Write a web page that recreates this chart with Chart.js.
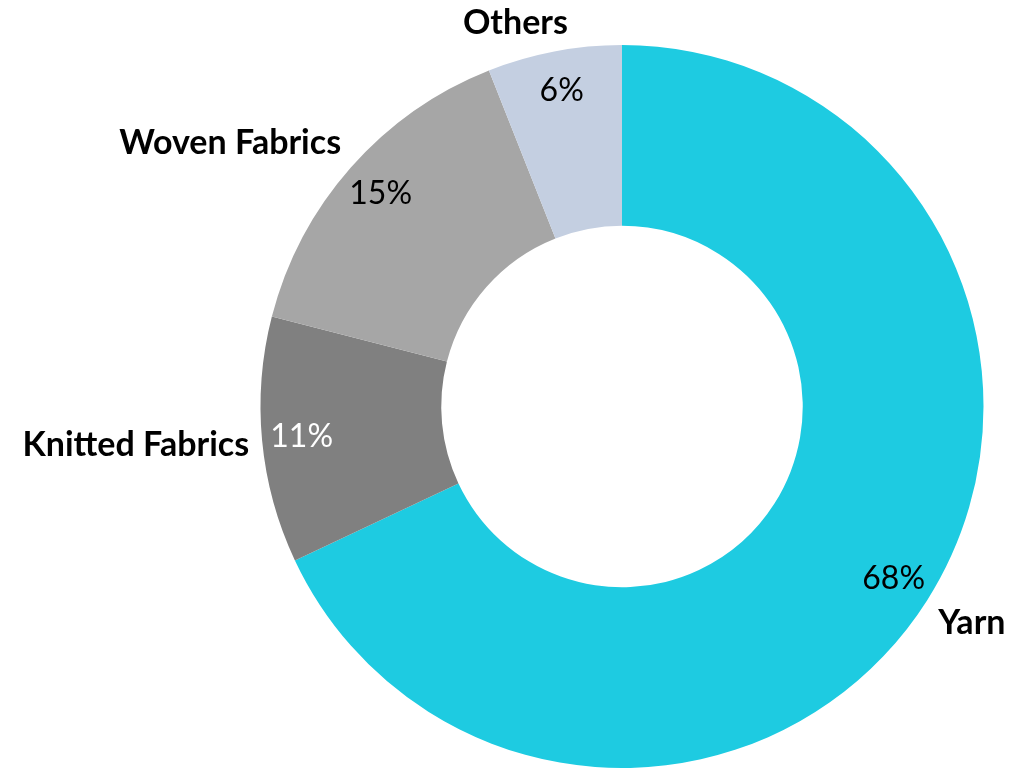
<!DOCTYPE html>
<html>
<head>
<meta charset="utf-8">
<script src="https://cdn.jsdelivr.net/npm/chart.js@4/dist/chart.umd.min.js"></script>
<style>
  html, body { margin: 0; padding: 0; background: #fff; }
  #wrap { width: 1030px; height: 768px; }
</style>
</head>
<body>
<div id="wrap"><canvas id="shareChart"></canvas></div>
<script>
const categories = ['Yarn', 'Knitted Fabrics', 'Woven Fabrics', 'Others'];
const shares = [68, 11, 15, 6];
const sliceColors = ['#1ECBE1', '#808080', '#A6A6A6', '#C4CFE1'];
const valueColors = ['#000000', '#ffffff', '#000000', '#000000'];

const FONT = 'Lato, "Open Sans", sans-serif';
const clamp = v => Math.max(-1, Math.min(1, v));

// draws the percentage inside each slice and the category name outside
const sliceLabels = {
    id: 'sliceLabels',
    afterDatasetsDraw(chart) {
        const ctx = chart.ctx;
        const meta = chart.getDatasetMeta(0);
        meta.data.forEach((arc, i) => {
            const p = arc.getProps(['x', 'y', 'startAngle', 'endAngle', 'outerRadius'], true);
            const mid = (p.startAngle + p.endAngle) / 2;
            const dx = Math.cos(mid), dy = Math.sin(mid);

            ctx.save();
            ctx.textAlign = 'center';
            ctx.textBaseline = 'middle';
            ctx.font = '32px ' + FONT;
            ctx.fillStyle = valueColors[i];
            const rv = p.outerRadius * 0.89;
            ctx.fillText(shares[i] + '%', p.x + dx * rv, p.y + dy * rv);

            // name: anchored just outside the rim, pushed away from the ring
            ctx.font = 'bold 34px ' + FONT;
            ctx.fillStyle = '#000';
            const w = ctx.measureText(categories[i]).width;
            const h = 32;
            const ra = p.outerRadius + 13;
            const ax = p.x + dx * ra, ay = p.y + dy * ra;
            ctx.fillText(categories[i], ax + clamp(dx * 3.7) * w / 2, ay + clamp(dy * 2) * h / 2);
            ctx.restore();
        });
    }
};

const ctx = document.getElementById('shareChart').getContext('2d');
const shareChart = new Chart(ctx, {
    type: 'doughnut',
    data: {
        labels: categories,
        datasets: [{
            data: shares,
            backgroundColor: sliceColors,
            borderWidth: 0
        }]
    },
    options: {
        responsive: true,
        maintainAspectRatio: false,
        animation: false,
        cutout: '50%',
        layout: { padding: { left: 260, right: 46, top: 45, bottom: 0 } },
        plugins: {
            legend: { display: false },
            tooltip: { enabled: false }
        }
    },
    plugins: [sliceLabels]
});
</script>
</body>
</html>
